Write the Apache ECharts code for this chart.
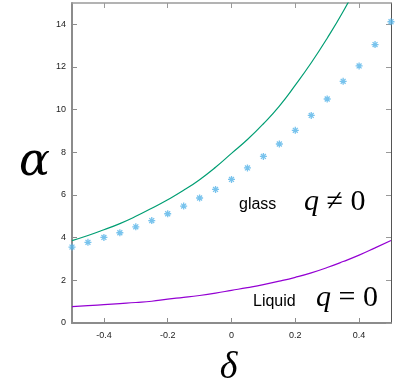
<!DOCTYPE html>
<html>
<head>
<meta charset="utf-8">
<script src="https://cdn.jsdelivr.net/npm/echarts@6/dist/echarts.min.js"></script>
<style>
  html, body { margin: 0; padding: 0; background: #fff; }
  #chart { width: 415px; height: 390px; }
</style>
</head>
<body>
<div id="chart"></div>
<script>
// delta values shared by all series
const deltas = [-0.5, -0.45, -0.4, -0.35, -0.3, -0.25, -0.2, -0.15, -0.1, -0.05, 0,
  0.05, 0.1, 0.15, 0.2, 0.25, 0.3, 0.35, 0.4, 0.45, 0.5];
// glass points (blue stars)
const glassPoints = [3.56, 3.78, 4.01, 4.23, 4.51, 4.80, 5.12, 5.48, 5.86, 6.26, 6.73,
  7.27, 7.81, 8.39, 9.03, 9.73, 10.5, 11.33, 12.05, 13.05, 14.12];
// green curve (goes out of the frame after ~0.37)
const greenCurve = [3.86, 4.1, 4.37, 4.66, 5.0, 5.38, 5.78, 6.22, 6.72, 7.3, 7.95,
  8.6, 9.34, 10.17, 11.15, 12.2, 13.35, 14.6, 16.0];
// purple curve (liquid)
const purpleCurve = [0.77, 0.81, 0.86, 0.91, 0.96, 1.02, 1.12, 1.2, 1.29, 1.4, 1.53,
  1.66, 1.8, 1.96, 2.14, 2.35, 2.6, 2.88, 3.18, 3.52, 3.87];
const xTicks = [-0.4, -0.2, 0, 0.2, 0.4];
const yTicks = [0, 2, 4, 6, 8, 10, 12, 14];

const pairs = (ys) => ys.map((y, i) => [deltas[i], y]);

const chart = echarts.init(document.getElementById('chart'));
const serif = '"Liberation Serif", "DejaVu Serif", serif';
const mathSerif = '"DejaVu Serif", "Liberation Serif", serif';
const sans = '"Liberation Sans", Arial, sans-serif';

const option = {
  animation: false,
  grid: { left: 72, right: 24, top: 3, bottom: 67, outerBoundsMode: 'none' },
  xAxis: [
    {
      type: 'value', min: -0.5, max: 0.5,
      name: 'δ', nameLocation: 'middle', nameGap: 26,
      nameTextStyle: { fontFamily: serif, fontStyle: 'italic', fontSize: 38, color: '#000', verticalAlign: 'top', padding: [0, 6, 0, 0] },
      axisLine: { onZero: false, lineStyle: { color: '#8c8c8c', width: 2 } },
      axisTick: { inside: true, length: 5, customValues: xTicks, lineStyle: { color: '#8c8c8c' } },
      axisLabel: { customValues: xTicks, fontSize: 9, color: '#222', margin: 8, fontFamily: sans },
      splitLine: { show: false }
    },
    {
      type: 'value', min: -0.5, max: 0.5, position: 'top',
      axisLine: { show: true, onZero: false, lineStyle: { color: '#9a9a9a', width: 1.5 } },
      axisTick: { inside: true, length: 5, customValues: xTicks, lineStyle: { color: '#9a9a9a' } },
      axisLabel: { show: false },
      splitLine: { show: false }
    }
  ],
  yAxis: [
    {
      type: 'value', min: 0, max: 15,
      name: 'α', nameLocation: 'middle', nameRotate: 0, nameGap: 16,
      nameTextStyle: { fontFamily: mathSerif, fontStyle: 'italic', fontSize: 46, color: '#000', padding: [6, 0, 0, 0] },
      axisLine: { show: true, onZero: false, lineStyle: { color: '#8c8c8c', width: 2 } },
      axisTick: { show: true, inside: true, length: 5, customValues: yTicks, lineStyle: { color: '#8c8c8c' } },
      axisLabel: { customValues: yTicks, fontSize: 9, color: '#222', margin: 6, fontFamily: sans },
      splitLine: { show: false }
    },
    {
      type: 'value', min: 0, max: 15, position: 'right',
      axisLine: { show: true, onZero: false, lineStyle: { color: '#555', width: 1 } },
      axisTick: { show: true, inside: true, length: 5, customValues: yTicks, lineStyle: { color: '#999' } },
      axisLabel: { show: false },
      splitLine: { show: false }
    }
  ],
  series: [
    {
      name: 'liquid', type: 'line', data: pairs(purpleCurve), smooth: true,
      showSymbol: false, clip: true,
      lineStyle: { color: '#9400d3', width: 1.2 }
    },
    {
      name: 'glass-curve', type: 'line', data: pairs(greenCurve), smooth: true,
      showSymbol: false, clip: true,
      lineStyle: { color: '#009e73', width: 1.2 }
    },
    {
      name: 'glass', type: 'scatter', data: pairs(glassPoints),
      symbol: 'path://M0,-1L0,1M-1,0L1,0M-0.7,-0.7L0.7,0.7M-0.7,0.7L0.7,-0.7',
      symbolSize: 7,
      itemStyle: { color: 'rgba(0,0,0,0)', borderColor: '#56b4e9', borderWidth: 1.3 }
    }
  ],
  graphic: [
    { type: 'text', left: 239, top: 197, style: { text: 'glass', font: '16px ' + sans, fill: '#000' } },
    {
      type: 'text', left: 304, top: 187,
      style: {
        text: '{q|q }{r|≠ 0}',
        rich: {
          q: { fontFamily: serif, fontStyle: 'italic', fontSize: 30, fill: '#000' },
          r: { fontFamily: serif, fontSize: 30, fill: '#000' }
        }
      }
    },
    { type: 'text', left: 253, top: 294, style: { text: 'Liquid', font: '16px ' + sans, fill: '#000' } },
    {
      type: 'text', left: 316, top: 283,
      style: {
        text: '{q|q }{r|= 0}',
        rich: {
          q: { fontFamily: serif, fontStyle: 'italic', fontSize: 30, fill: '#000' },
          r: { fontFamily: serif, fontSize: 30, fill: '#000' }
        }
      }
    }
  ]
};
chart.setOption(option);
</script>
</body>
</html>
